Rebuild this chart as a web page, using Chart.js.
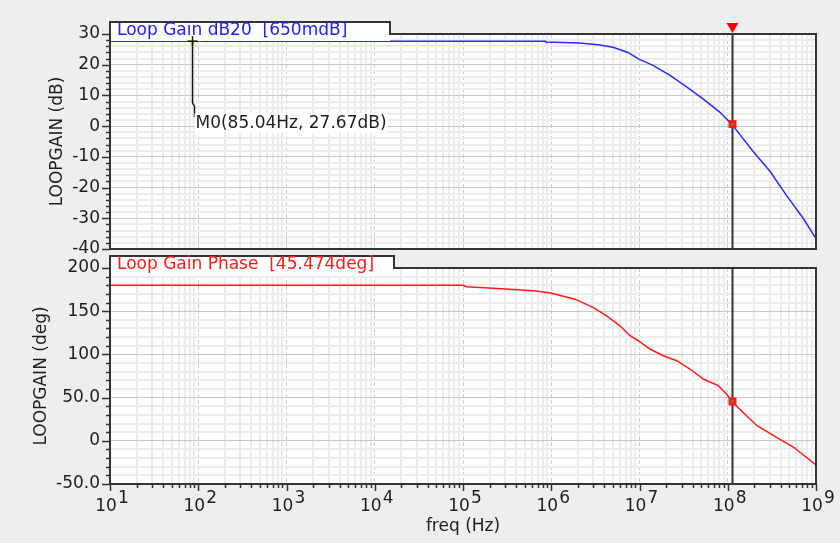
<!DOCTYPE html>
<html>
<head>
<title>Loop Gain</title>
<script src="https://cdn.jsdelivr.net/npm/chart.js"></script>
<style>
    body {
        margin: 0;
        background: #eeeeee;
        font-family: 'DejaVu Sans', sans-serif;
    }
    #wrap {
        position: relative;
        width: 840px;
        height: 543px;
    }
    #gainChart { position: absolute; left: 0; top: 0; }
    #phaseChart { position: absolute; left: 0; top: 250px; }
</style>
</head>
<body>

<div id="wrap">
    <canvas id="gainChart" width="840" height="262"></canvas>
    <canvas id="phaseChart" width="840" height="293"></canvas>
</div>

<script>
    // values
    const gainFreq = [10, 1e4, 1e5, 8.5e5, 8.7e5, 2.1e6, 3.4e6, 5.0e6, 7.4e6, 9.6e6, 1.42e7, 2.22e7,
                      3.45e7, 5.25e7, 8.17e7, 1.11e8, 1.93e8, 3.01e8, 4.69e8, 7.13e8, 1e9];
    const gainDb = [27.67, 27.67, 27.67, 27.67, 27.4, 27.1, 26.5, 25.7, 24.0, 22.0, 19.8, 16.5,
                    12.7, 8.9, 4.5, 0.65, -8.2, -14.7, -22.8, -29.9, -36.6];

    const phaseFreq = [10, 1e5, 1.1e5, 2.74e5, 6.8e5, 1.01e6, 1.86e6, 3.0e6, 4.25e6, 6.0e6, 7.8e6, 9.7e6,
                       1.31e7, 1.86e7, 2.64e7, 3.73e7, 5.28e7, 7.8e7, 9.7e7, 1.11e8, 2.13e8, 3.28e8, 5.53e8, 1e9];
    const phaseDeg = [180, 180, 178.4, 176.1, 173.4, 170.8, 163.9, 154.2, 144.6, 133.1, 121.6, 115.8,
                      106.2, 98.5, 92.7, 83.1, 71.5, 63.8, 54.2, 45.474, 17.8, 6.3, -7.2, -28.0];

    const decadeExponents = [1, 2, 3, 4, 5, 6, 7, 8, 9];
    const gainTicks = [30, 20, 10, 0, -10, -20, -30, -40];
    const gainTickLabels = ['30', '20', '10', '0', '-10', '-20', '-30', '-40'];
    const phaseTicks = [200, 150, 100, 50, 0, -50];
    const phaseTickLabels = ['200', '150', '100', '50.0', '0', '-50.0'];

    const cursorFreq = 1.11e8;
    const cursorGain = 0.65;
    const cursorPhase = 45.474;
    const markerM0 = { freq: 85.04, gain: 27.67, text: 'M0(85.04Hz, 27.67dB)' };

    const FONT = "'DejaVu Sans', sans-serif";
    const TEXT = '#1e1e1e';

    function isDecade(v) {
        const l = Math.log10(v);
        return Math.abs(l - Math.round(l)) < 1e-9;
    }

    function logTicks() {
        const out = [];
        decadeExponents.forEach(e => {
            if (e === 9) { out.push(1e9); return; }
            for (let m = 1; m < 10; m++) out.push(m * Math.pow(10, e));
        });
        return out;
    }

    function stepTicks(min, max, step) {
        const out = [];
        for (let v = min; v <= max + 1e-9; v += step) out.push(Math.round(v * 1000) / 1000);
        return out;
    }

    function seg(ctx, x1, y1, x2, y2) {
        ctx.beginPath();
        ctx.moveTo(x1, y1);
        ctx.lineTo(x2, y2);
        ctx.stroke();
    }

    const panelPlugin = {
        id: 'panel',
        beforeDraw(chart) {
            const a = chart.chartArea, ctx = chart.ctx;
            ctx.save();
            ctx.fillStyle = '#ffffff';
            ctx.fillRect(a.left, a.top, a.right - a.left, a.bottom - a.top);
            ctx.restore();
        },
        afterDraw(chart, args, o) {
            const { ctx, chartArea: a, scales: { x, y } } = chart;
            ctx.save();

            // y tick marks, outside the axis
            ctx.strokeStyle = '#333';
            ctx.lineWidth = 1.5;
            y.ticks.forEach(t => {
                const py = Math.round(y.getPixelForValue(t.value)) + 0.5;
                const len = o.majors.includes(t.value) ? 8 : 4;
                seg(ctx, a.left - len, py, a.left, py);
            });

            // x tick marks + labels (bottom panel only)
            if (o.xLabels) {
                x.ticks.forEach(t => {
                    const px = Math.round(x.getPixelForValue(t.value)) + 0.5;
                    seg(ctx, px, a.bottom, px, a.bottom + (isDecade(t.value) ? 7 : 4));
                });
                ctx.fillStyle = TEXT;
                ctx.font = '17px ' + FONT;
                ctx.textBaseline = 'middle';
                ctx.textAlign = 'left';
                decadeExponents.forEach(e => {
                    const px = x.getPixelForValue(Math.pow(10, e));
                    const wb = ctx.measureText('10').width;
                    const we = ctx.measureText(String(e)).width;
                    const x0 = px - (wb + we) / 2 + 1.5;
                    ctx.fillText('10', x0, a.bottom + 23);
                    ctx.fillText(String(e), x0 + wb + 1, a.bottom + 15);
                });
            }

            // cursor line
            const cx = Math.round(x.getPixelForValue(cursorFreq)) + 0.5;
            ctx.strokeStyle = '#333';
            ctx.lineWidth = 2;
            seg(ctx, cx, a.top, cx, a.bottom);

            // cursor intersection marker
            const my = y.getPixelForValue(o.cursorValue);
            ctx.fillStyle = '#ff1a1a';
            ctx.fillRect(cx - 4, my - 4, 8, 8);
            ctx.fillStyle = '#22cc44';
            ctx.fillRect(cx - 1, my - 1, 2, 2);

            // label box over the top of the plot
            const boxTop = a.top - 12;
            ctx.fillStyle = '#ffffff';
            ctx.fillRect(a.left, boxTop, o.boxRight - a.left, 12 + o.boxDepth);

            // frame
            ctx.strokeStyle = '#333';
            ctx.lineWidth = 2;
            ctx.beginPath();
            ctx.moveTo(a.left, a.bottom);
            ctx.lineTo(a.left, boxTop);
            ctx.lineTo(o.boxRight, boxTop);
            ctx.lineTo(o.boxRight, a.top);
            ctx.lineTo(a.right, a.top);
            ctx.lineTo(a.right, a.bottom);
            ctx.closePath();
            ctx.stroke();

            ctx.fillStyle = o.color;
            ctx.font = '17px ' + FONT;
            ctx.textAlign = 'left';
            ctx.textBaseline = 'middle';
            ctx.fillText(o.label, a.left + 7, boxTop + 9);

            if (o.showM0) {
                // cursor flag on the top edge
                ctx.fillStyle = '#ff0000';
                ctx.beginPath();
                ctx.moveTo(cx - 6, a.top - 11);
                ctx.lineTo(cx + 6, a.top - 11);
                ctx.lineTo(cx, a.top - 1);
                ctx.closePath();
                ctx.fill();

                // M0 marker
                const mx = Math.round(x.getPixelForValue(markerM0.freq)) + 0.5;
                const mp = y.getPixelForValue(markerM0.gain);
                const ly = y.getPixelForValue(0) - 3;
                ctx.strokeStyle = '#111';
                ctx.lineWidth = 1.5;
                seg(ctx, mx - 5, mp, mx + 5, mp);
                seg(ctx, mx, mp - 5, mx, mp + 5);
                seg(ctx, mx, mp, mx, ly - 20);
                seg(ctx, mx, ly - 20, mx + 2, ly - 17);
                seg(ctx, mx + 2, ly - 17, mx + 2, ly - 6);
                ctx.font = '17px ' + FONT;
                const tw = ctx.measureText(markerM0.text).width;
                ctx.fillStyle = '#ffffff';
                ctx.fillRect(mx + 2, ly - 10, tw + 2, 20);
                ctx.fillStyle = TEXT;
                ctx.fillText(markerM0.text, mx + 3, ly);
            }
            ctx.restore();
        }
    };

    function makePanel(id, p) {
        return new Chart(document.getElementById(id), {
            type: 'line',
            data: {
                datasets: [{
                    data: p.freq.map((f, i) => ({ x: f, y: p.values[i] })),
                    borderColor: p.lineColor,
                    borderWidth: 1.5,
                    pointRadius: 0,
                    tension: 0
                }]
            },
            options: {
                responsive: false,
                animation: false,
                layout: { padding: { top: p.padTop, right: 24, bottom: 0, left: 0 } },
                plugins: {
                    legend: { display: false },
                    tooltip: { enabled: false },
                    panel: p.decor
                },
                scales: {
                    x: {
                        type: 'logarithmic',
                        min: 10,
                        max: 1e9,
                        afterBuildTicks: s => { s.ticks = logTicks().map(v => ({ value: v })); },
                        afterFit: s => { s.height = p.xHeight; s.paddingLeft = 0; s.paddingRight = 0; },
                        ticks: { display: false },
                        grid: {
                            drawTicks: false,
                            color: c => (c.tick && isDecade(c.tick.value)) ? '#cccccc' : '#ececec',
                            lineWidth: c => (c.tick && isDecade(c.tick.value)) ? 1 : 2
                        },
                        border: {
                            display: false,
                            dash: c => (c.tick && isDecade(c.tick.value)) ? [4, 2] : []
                        },
                        title: {
                            display: !!p.xTitle,
                            text: p.xTitle || '',
                            color: TEXT,
                            font: { family: FONT, size: 17 },
                            padding: { top: 0, bottom: 6 }
                        }
                    },
                    y: {
                        min: p.min,
                        max: p.max,
                        afterBuildTicks: s => { s.ticks = stepTicks(p.min, p.max, p.minor).map(v => ({ value: v })); },
                        afterFit: s => { s.width = 110; s.paddingTop = 0; s.paddingBottom = 0; },
                        ticks: {
                            autoSkip: false,
                            padding: 10,
                            color: TEXT,
                            font: { family: FONT, size: 17 },
                            callback: v => {
                                const i = p.ticks.indexOf(v);
                                return i < 0 ? '' : p.tickLabels[i];
                            }
                        },
                        grid: {
                            drawTicks: false,
                            color: c => (c.tick && p.ticks.includes(c.tick.value)) ? '#c8c8c8' : '#ececec',
                            lineWidth: c => (c.tick && p.ticks.includes(c.tick.value)) ? 1 : 2
                        },
                        border: { display: false },
                        title: {
                            display: true,
                            text: p.yTitle,
                            color: TEXT,
                            font: { family: FONT, size: 17 },
                            padding: { top: p.yTitlePad, bottom: 0 }
                        }
                    }
                }
            },
            plugins: [panelPlugin]
        });
    }

    makePanel('gainChart', {
        freq: gainFreq, values: gainDb, lineColor: '#2a2aff',
        min: -40, max: 30, minor: 2, ticks: gainTicks, tickLabels: gainTickLabels,
        padTop: 34, xHeight: 13, yTitle: 'LOOPGAIN (dB)', yTitlePad: 47,
        decor: {
            majors: gainTicks, cursorValue: cursorGain, xLabels: false, showM0: true,
            color: '#2020ff', label: 'Loop Gain dB20  [650mdB]', boxRight: 390, boxDepth: 7
        }
    });

    makePanel('phaseChart', {
        freq: phaseFreq, values: phaseDeg, lineColor: '#ff1a1a',
        min: -50, max: 200, minor: 10, ticks: phaseTicks, tickLabels: phaseTickLabels,
        padTop: 18, xHeight: 59, xTitle: 'freq (Hz)', yTitle: 'LOOPGAIN (deg)', yTitlePad: 31,
        decor: {
            majors: phaseTicks, cursorValue: cursorPhase, xLabels: true, showM0: false,
            color: '#ff1a1a', label: 'Loop Gain Phase  [45.474deg]', boxRight: 394, boxDepth: 8
        }
    });
</script>

</body>
</html>
